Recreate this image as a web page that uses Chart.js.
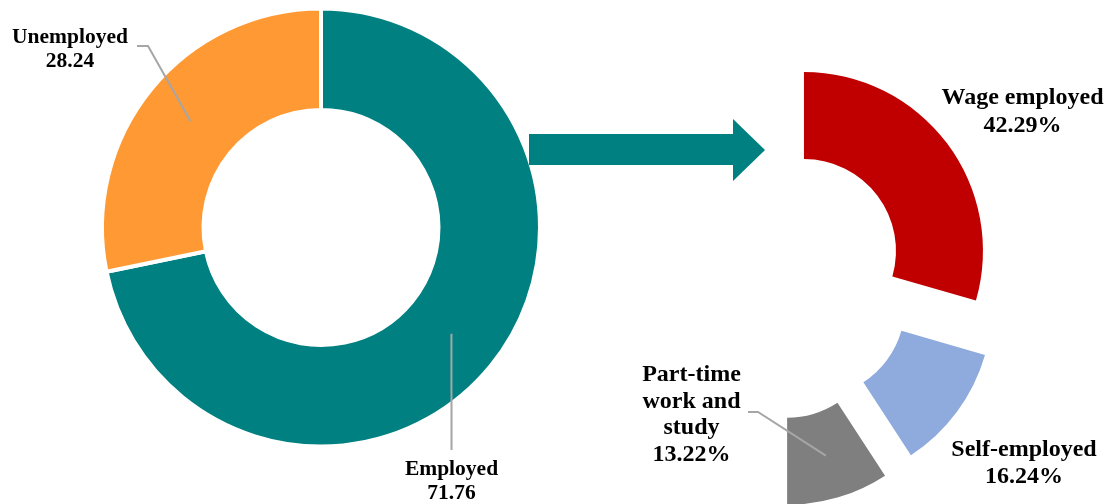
<!DOCTYPE html>
<html>
<head>
<meta charset="utf-8">
<script src="https://cdn.jsdelivr.net/npm/chart.js@4.4.1/dist/chart.umd.min.js"></script>
<style>
html, body { margin: 0; padding: 0; background: #ffffff; }
#wrap { position: relative; width: 1110px; height: 504px; overflow: hidden; }
#wrap canvas, #wrap svg { position: absolute; left: 0; top: 0; }
</style>
</head>
<body>
<div id="wrap">
  <canvas id="statusChart" width="1110" height="504"></canvas>
  <canvas id="employedChart" width="1110" height="504"></canvas>
  <svg width="1110" height="504" aria-hidden="true">
    <polygon points="529,134 733,134 733,119 765,150 733,181 733,165 529,165" fill="#008080"/>
  </svg>
</div>
<script>
// ---- data ----
const statusCategories = ['Employed', 'Unemployed'];
const statusValues = [71.76, 28.24];
const employedCategories = [['Wage employed'], ['Self-employed'], ['Part-time', 'work and', 'study']];
const employedValues = [42.29, 16.24, 13.22];

// ---- label / explode plugin factory ----
function makeSliceLabels(cfg) {
  return {
    id: 'sliceLabels',
    beforeDatasetsDraw(chart) {
      if (!cfg.explode) return;
      const meta = chart.getDatasetMeta(0);
      const ctrl = meta.controller;
      const a = chart.chartArea;
      const cx = (a.left + a.right) / 2 + (ctrl.offsetX || 0);
      const cy = (a.top + a.bottom) / 2 + (ctrl.offsetY || 0);
      meta.data.forEach((arc, i) => {
        const d = cfg.explode[i] || 0;
        const mid = (arc.startAngle + arc.endAngle) / 2;
        arc.x = cx + d * Math.cos(mid);
        arc.y = cy + d * Math.sin(mid);
      });
    },
    afterDatasetsDraw(chart) {
      const ctx = chart.ctx;
      const meta = chart.getDatasetMeta(0);
      const data = chart.data.datasets[0].data;
      const labels = chart.data.labels;
      cfg.items.forEach((it, i) => {
        const arc = meta.data[i];
        const p = arc.tooltipPosition();
        ctx.save();
        if (it.leader) {
          ctx.strokeStyle = cfg.leaderColor;
          ctx.lineWidth = cfg.leaderWidth;
          ctx.beginPath();
          it.leader.forEach((pt, k) => k === 0 ? ctx.moveTo(pt[0], pt[1]) : ctx.lineTo(pt[0], pt[1]));
          ctx.lineTo(p.x, p.y);
          ctx.stroke();
        }
        const lines = [].concat(labels[i], data[i].toFixed(2) + cfg.suffix);
        ctx.font = cfg.font;
        ctx.fillStyle = cfg.color;
        ctx.textAlign = 'center';
        ctx.textBaseline = 'alphabetic';
        lines.forEach((t, k) => ctx.fillText(t, it.x, it.y + k * it.lineHeight));
        ctx.restore();
      });
    }
  };
}

// ---- left doughnut ----
new Chart(document.getElementById('statusChart'), {
  type: 'doughnut',
  data: {
    labels: statusCategories,
    datasets: [{
      data: statusValues,
      backgroundColor: ['#008080', '#FF9933'],
      borderColor: '#ffffff',
      borderWidth: 4,
      clip: false
    }]
  },
  options: {
    responsive: false,
    animation: false,
    events: [],
    radius: 219,
    cutout: '53.65%',
    rotation: 0,
    layout: { padding: { left: 101, right: 569, top: 8, bottom: 57 } },
    plugins: { legend: { display: false }, tooltip: { enabled: false } }
  },
  plugins: [makeSliceLabels({
    font: 'bold 21.5px "Liberation Serif", "Times New Roman", serif',
    color: '#000000',
    suffix: '',
    leaderColor: '#A6A6A6',
    leaderWidth: 2,
    items: [
      { x: 451.5, y: 475, lineHeight: 24, leader: [[451.5, 450]] },
      { x: 70, y: 43, lineHeight: 24, leader: [[137, 46], [148, 46]] }
    ]
  })]
});

// ---- right exploded half doughnut ----
new Chart(document.getElementById('employedChart'), {
  type: 'doughnut',
  data: {
    labels: employedCategories,
    datasets: [{
      data: employedValues,
      backgroundColor: ['#C00000', '#8FAADC', '#7F7F7F'],
      borderWidth: 0,
      clip: false
    }]
  },
  options: {
    responsive: false,
    animation: false,
    events: [],
    radius: 179,
    cutout: '51.4%',
    rotation: 0,
    circumference: 180,
    layout: { padding: { left: 771.5, right: 158.5, top: 95, bottom: 49 } },
    plugins: { legend: { display: false }, tooltip: { enabled: false } }
  },
  plugins: [makeSliceLabels({
    font: 'bold 24px "Liberation Serif", "Times New Roman", serif',
    color: '#000000',
    suffix: '%',
    leaderColor: '#A6A6A6',
    leaderWidth: 2,
    explode: [40, 51, 53],
    items: [
      { x: 1022.5, y: 104, lineHeight: 28 },
      { x: 1024, y: 456, lineHeight: 27 },
      { x: 691.5, y: 381, lineHeight: 26.5, leader: [[748, 412], [758, 412]] }
    ]
  })]
});
</script>
</body>
</html>
